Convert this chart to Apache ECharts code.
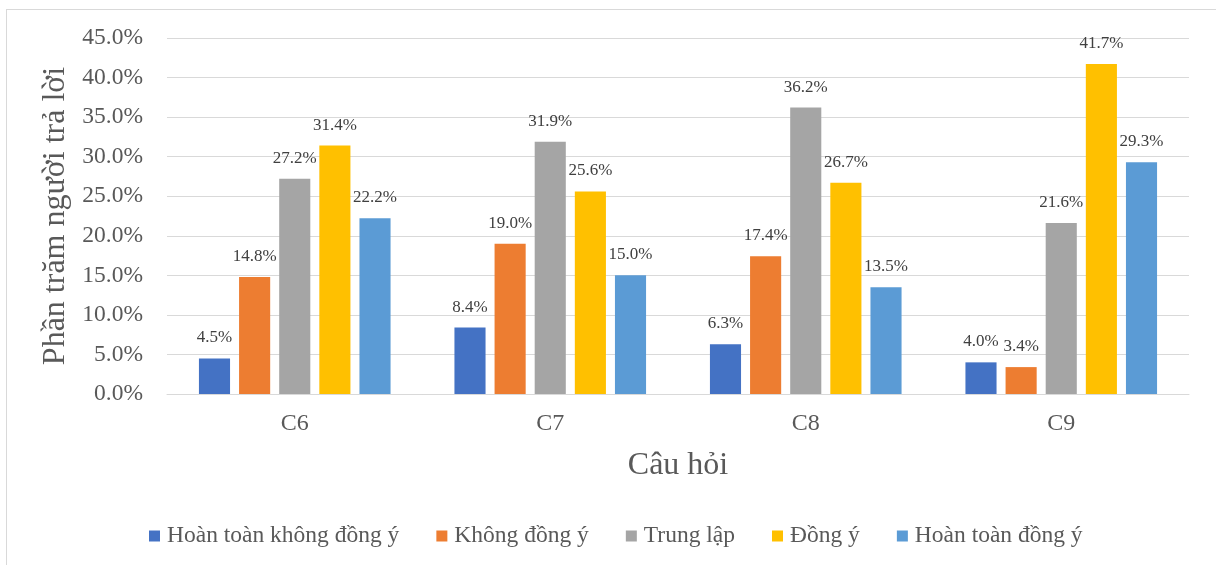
<!DOCTYPE html>
<html>
<head>
<meta charset="utf-8">
<script src="https://cdn.jsdelivr.net/npm/echarts@6/dist/echarts.min.js"></script>
<style>
  html, body { margin: 0; padding: 0; background: #ffffff; overflow: hidden; }
  #frame { position: absolute; left: 6px; top: 9px; width: 1230px; height: 580px; border: 1px solid #d9d9d9; box-sizing: border-box; }
  #chart { position: absolute; left: 0; top: 0; width: 1216px; height: 565px; }
</style>
</head>
<body>
<div id="frame"></div>
<div id="chart"></div>
<script>
// Survey questions and answer shares (% of respondents)
const categories = ['C6', 'C7', 'C8', 'C9'];
const seriesNames = ['Hoàn toàn không đồng ý', 'Không đồng ý', 'Trung lập', 'Đồng ý', 'Hoàn toàn đồng ý'];
const stronglyDisagree = [4.5, 8.4, 6.3, 4.0];
const disagree = [14.8, 19.0, 17.4, 3.4];
const neutral = [27.2, 31.9, 36.2, 21.6];
const agree = [31.4, 25.6, 26.7, 41.7];
const stronglyAgree = [22.2, 15.0, 13.5, 29.3];
const yTicks = [0, 5, 10, 15, 20, 25, 30, 35, 40, 45];

const colors = ['#4472C4', '#ED7D31', '#A5A5A5', '#FFC000', '#5B9BD5'];
const values = [stronglyDisagree, disagree, neutral, agree, stronglyAgree];
const serif = '"Liberation Serif", "Times New Roman", serif';

const chart = echarts.init(document.getElementById('chart'));
chart.setOption({
  animation: false,
  color: colors,
  grid: { left: 167, right: 27, top: 38, bottom: 171, containLabel: false },
  legend: {
    data: seriesNames,
    bottom: 12,
    left: 144,
    itemWidth: 11,
    itemHeight: 11,
    itemGap: 37,
    icon: 'rect',
    textStyle: { fontFamily: serif, fontSize: 23.5, color: '#595959', padding: [0, 0, 0, 2] }
  },
  xAxis: {
    type: 'category',
    data: categories,
    name: 'Câu hỏi',
    nameLocation: 'middle',
    nameGap: 56,
    nameTextStyle: { fontFamily: serif, fontSize: 32, color: '#595959' },
    axisLine: { lineStyle: { color: '#d9d9d9', width: 1 } },
    axisTick: { show: false },
    axisLabel: { fontFamily: serif, fontSize: 24, color: '#595959', margin: 18 }
  },
  yAxis: {
    type: 'value',
    min: yTicks[0],
    max: yTicks[yTicks.length - 1],
    interval: 5,
    name: 'Phần trăm người trả lời',
    nameLocation: 'middle',
    nameGap: 89,
    nameTextStyle: { fontFamily: serif, fontSize: 32, color: '#595959' },
    axisLine: { show: false },
    axisTick: { show: false },
    splitLine: { lineStyle: { color: '#d9d9d9', width: 1 } },
    axisLabel: {
      fontFamily: serif, fontSize: 23.5, color: '#595959', margin: 24,
      formatter: v => v.toFixed(1) + '%'
    }
  },
  series: seriesNames.map((name, i) => ({
    name,
    type: 'bar',
    data: values[i],
    barGap: '29%',
    barCategoryGap: '25%',
    label: {
      show: true,
      position: 'top',
      distance: 12,
      fontFamily: serif,
      fontSize: 17,
      color: '#404040',
      formatter: p => p.value.toFixed(1) + '%'
    }
  }))
});
</script>
</body>
</html>
